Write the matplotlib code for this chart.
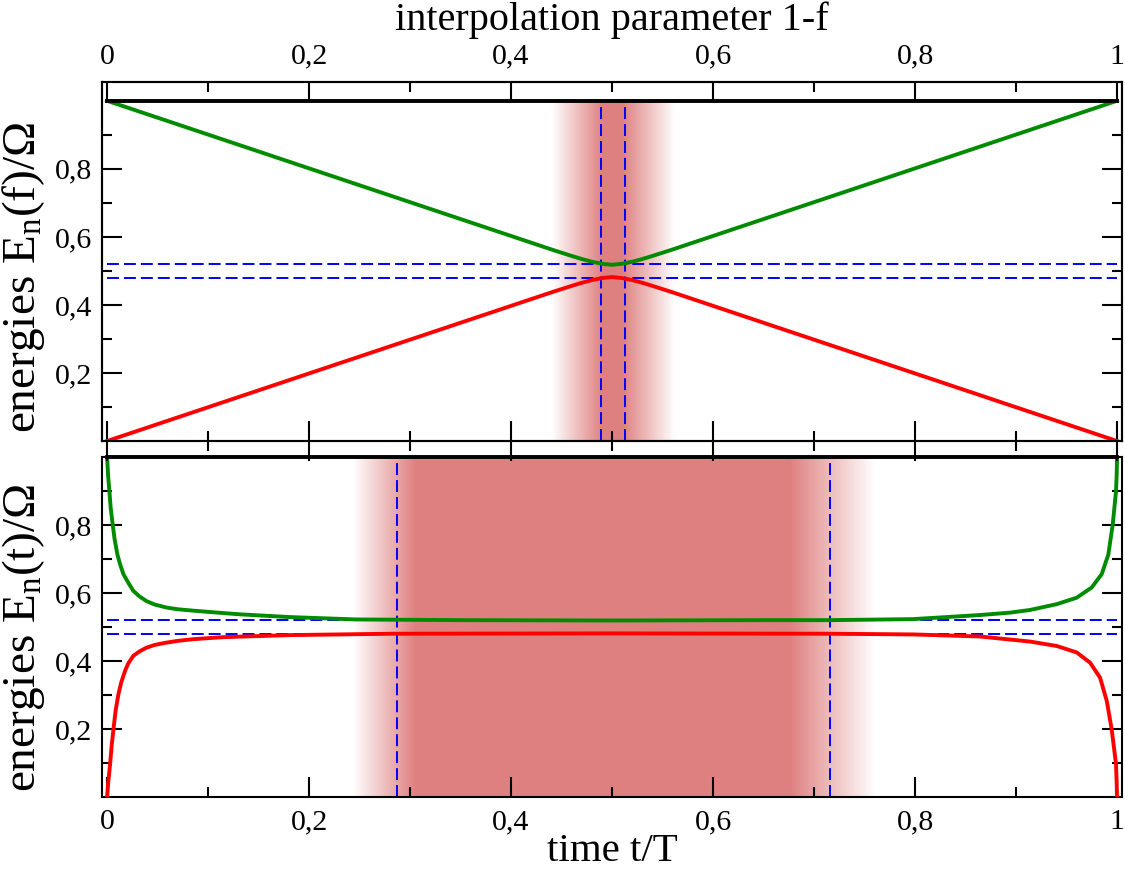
import numpy as np
import matplotlib.pyplot as plt
from matplotlib.ticker import MultipleLocator, FixedLocator, FuncFormatter

plt.rcParams['font.family'] = ['Liberation Serif', 'DejaVu Serif']
plt.rcParams['mathtext.default'] = 'regular'
plt.rcParams['lines.scale_dashes'] = False

# top panel: energies vs interpolation parameter
f_top = [0.0, 0.44, 0.46, 0.47, 0.48, 0.49, 0.50, 0.51, 0.52, 0.53, 0.54, 0.56, 1.0]
e_top_green = [1.0, 0.563, 0.544, 0.535, 0.527, 0.521, 0.518, 0.521, 0.527, 0.535,
               0.544, 0.563, 1.0]
e_top_red = [0.0, 0.437, 0.456, 0.465, 0.473, 0.479, 0.482, 0.479, 0.473, 0.465,
             0.456, 0.437, 0.0]

# bottom panel: energies vs time
t_green = [0.0, 0.001, 0.0023, 0.0035, 0.0056, 0.0075, 0.0102, 0.013, 0.0162, 0.021,
           0.026, 0.032, 0.039, 0.047, 0.059, 0.07, 0.085, 0.110, 0.132, 0.181,
           0.247, 0.35, 0.5, 0.65, 0.716, 0.798, 0.864, 0.894, 0.914, 0.9403,
           0.9601, 0.9749, 0.9848, 0.9914, 0.9957, 0.999, 0.9997, 1.0]
e_green = [1.0, 0.945, 0.899, 0.852, 0.800, 0.757, 0.713, 0.683, 0.655, 0.630,
           0.606, 0.590, 0.576, 0.566, 0.557, 0.552, 0.548, 0.542, 0.537, 0.529,
           0.522, 0.520, 0.519, 0.520, 0.520, 0.523, 0.535, 0.542, 0.550, 0.567,
           0.586, 0.616, 0.655, 0.713, 0.800, 0.899, 0.950, 1.0]
t_red = [0.0, 0.0012, 0.003, 0.0045, 0.0063, 0.0085, 0.0112, 0.014, 0.0178, 0.021,
         0.026, 0.032, 0.039, 0.047, 0.059, 0.07, 0.085, 0.115, 0.181, 0.281,
         0.5, 0.716, 0.798, 0.864, 0.894, 0.9139, 0.9403, 0.9601, 0.9733, 0.9832,
         0.9898, 0.9947, 0.999, 0.9996, 1.0]
e_red = [0.0, 0.045, 0.097, 0.150, 0.199, 0.255, 0.302, 0.337, 0.371, 0.393,
         0.415, 0.428, 0.439, 0.447, 0.454, 0.459, 0.464, 0.470, 0.476, 0.480,
         0.481, 0.480, 0.478, 0.472, 0.463, 0.457, 0.444, 0.425, 0.395, 0.351,
         0.283, 0.199, 0.097, 0.045, 0.0]

# third level, constant
x_level = [0.0, 1.0]
e_level = [1.0, 1.0]

# dashed markers
gap_lines = [0.48, 0.52]
vlines_top = [0.489, 0.513]
vlines_bottom = [0.287, 0.716]

# shaded bands: fade-in start, full, full end, fade-out end
band_top = [0.44, 0.49, 0.51, 0.562]
band_bottom = [0.243, 0.305, 0.676, 0.760]

shade_rgb = (0.878, 0.502, 0.502)
green = '#008b00'
red = '#ff0000'
blue = '#0000ff'
lw = 2.8
tick_fs = 21.5

fmt = FuncFormatter(lambda v, p: ('%g' % round(v, 3)).replace('.', ','))
xlim = (-0.005, 1.005)


def shade(ax, edges):
    xs = np.linspace(xlim[0], xlim[1], 2000)
    rgba = np.zeros((1, len(xs), 4))
    rgba[..., :3] = shade_rgb
    rgba[..., 3] = np.interp(xs, edges, [0, 1, 1, 0])
    ax.imshow(rgba, extent=[xs[0], xs[-1], 0, 1], aspect='auto',
              interpolation='bilinear', zorder=0)


def style_y(ax):
    ax.yaxis.set_major_locator(FixedLocator([0.2, 0.4, 0.6, 0.8]))
    ax.yaxis.set_minor_locator(FixedLocator([0.1, 0.3, 0.5, 0.7, 0.9]))
    ax.yaxis.set_major_formatter(fmt)
    ax.tick_params(axis='y', which='both', direction='in', left=True, right=True,
                   width=1.5, labelsize=tick_fs, pad=7)
    ax.tick_params(axis='y', which='major', length=14.4)
    ax.tick_params(axis='y', which='minor', length=7.2)
    for s in ax.spines.values():
        s.set_linewidth(1.5)


fig = plt.figure(figsize=(11.25, 8.73), dpi=100)
ax2 = fig.add_axes([0.0907, 0.0871, 0.9067, 0.3895])
ax1 = fig.add_axes([0.0907, 0.4948, 0.9067, 0.4112])

# ---- top panel
shade(ax1, band_top)
ax1.hlines(gap_lines, 0, 1, colors=blue, lw=1.4, linestyles=(0, (8.6, 3.6)), zorder=2)
ax1.vlines(vlines_top, 0, 1, colors=blue, lw=1.4, linestyles=(0, (8.6, 3.6)), zorder=2)
ax1.plot(f_top, e_top_green, color=green, lw=lw, zorder=3)
ax1.plot(f_top, e_top_red, color=red, lw=lw, zorder=3)
ax1.plot(x_level, e_level, color='black', lw=lw, zorder=3)
ax1.set_xlim(xlim)
ax1.set_ylim(0, 1.055)
ax1.xaxis.set_major_locator(MultipleLocator(0.2))
ax1.xaxis.set_minor_locator(MultipleLocator(0.1))
ax1.tick_params(axis='x', which='both', direction='inout', bottom=True, top=False,
                labelbottom=False, width=1.5)
ax1.tick_params(axis='x', which='major', length=28.8)
ax1.tick_params(axis='x', which='minor', length=14.4)
style_y(ax1)
ax1.set_ylabel('energies E$_{n}$(f)/\u03a9', fontsize=34)
ax1.yaxis.set_label_coords(-0.054, 0.455)

ax1t = ax1.twiny()
ax1t.set_xlim(xlim)
ax1t.xaxis.set_major_locator(MultipleLocator(0.2))
ax1t.xaxis.set_minor_locator(MultipleLocator(0.1))
ax1t.xaxis.set_major_formatter(fmt)
ax1t.tick_params(axis='x', which='both', direction='in', top=True, bottom=False,
                 labeltop=True, labelbottom=False, width=1.5, labelsize=tick_fs, pad=9)
ax1t.tick_params(axis='x', which='major', length=14.4)
ax1t.tick_params(axis='x', which='minor', length=7.2)
for s in ax1t.spines.values():
    s.set_linewidth(1.5)
ax1t.set_xlabel('interpolation parameter 1-f', fontsize=29, labelpad=10)

# ---- bottom panel
shade(ax2, band_bottom)
ax2.hlines(gap_lines, 0, 1, colors=blue, lw=1.4, linestyles=(0, (8.6, 3.6)), zorder=2)
ax2.vlines(vlines_bottom, 0, 1, colors=blue, lw=1.4, linestyles=(0, (8.6, 3.6)), zorder=2)
ax2.plot(t_green, e_green, color=green, lw=lw, zorder=3)
ax2.plot(t_red, e_red, color=red, lw=lw, zorder=3)
ax2.plot(x_level, e_level, color='black', lw=lw, zorder=3, clip_on=False)
ax2.set_xlim(xlim)
ax2.set_ylim(0, 1)
ax2.xaxis.set_major_locator(MultipleLocator(0.2))
ax2.xaxis.set_minor_locator(MultipleLocator(0.1))
ax2.xaxis.set_major_formatter(fmt)
ax2.tick_params(axis='x', which='both', direction='in', bottom=True, top=False,
                width=1.5, labelsize=tick_fs, pad=9)
ax2.tick_params(axis='x', which='major', length=14.4)
ax2.tick_params(axis='x', which='minor', length=7.2)
style_y(ax2)
ax2.set_xlabel('time t/T', fontsize=29.5, labelpad=-1.5)
ax2.set_ylabel('energies E$_{n}$(t)/\u03a9', fontsize=34)
ax2.yaxis.set_label_coords(-0.054, 0.468)

fig.savefig('out.png', dpi=100)
